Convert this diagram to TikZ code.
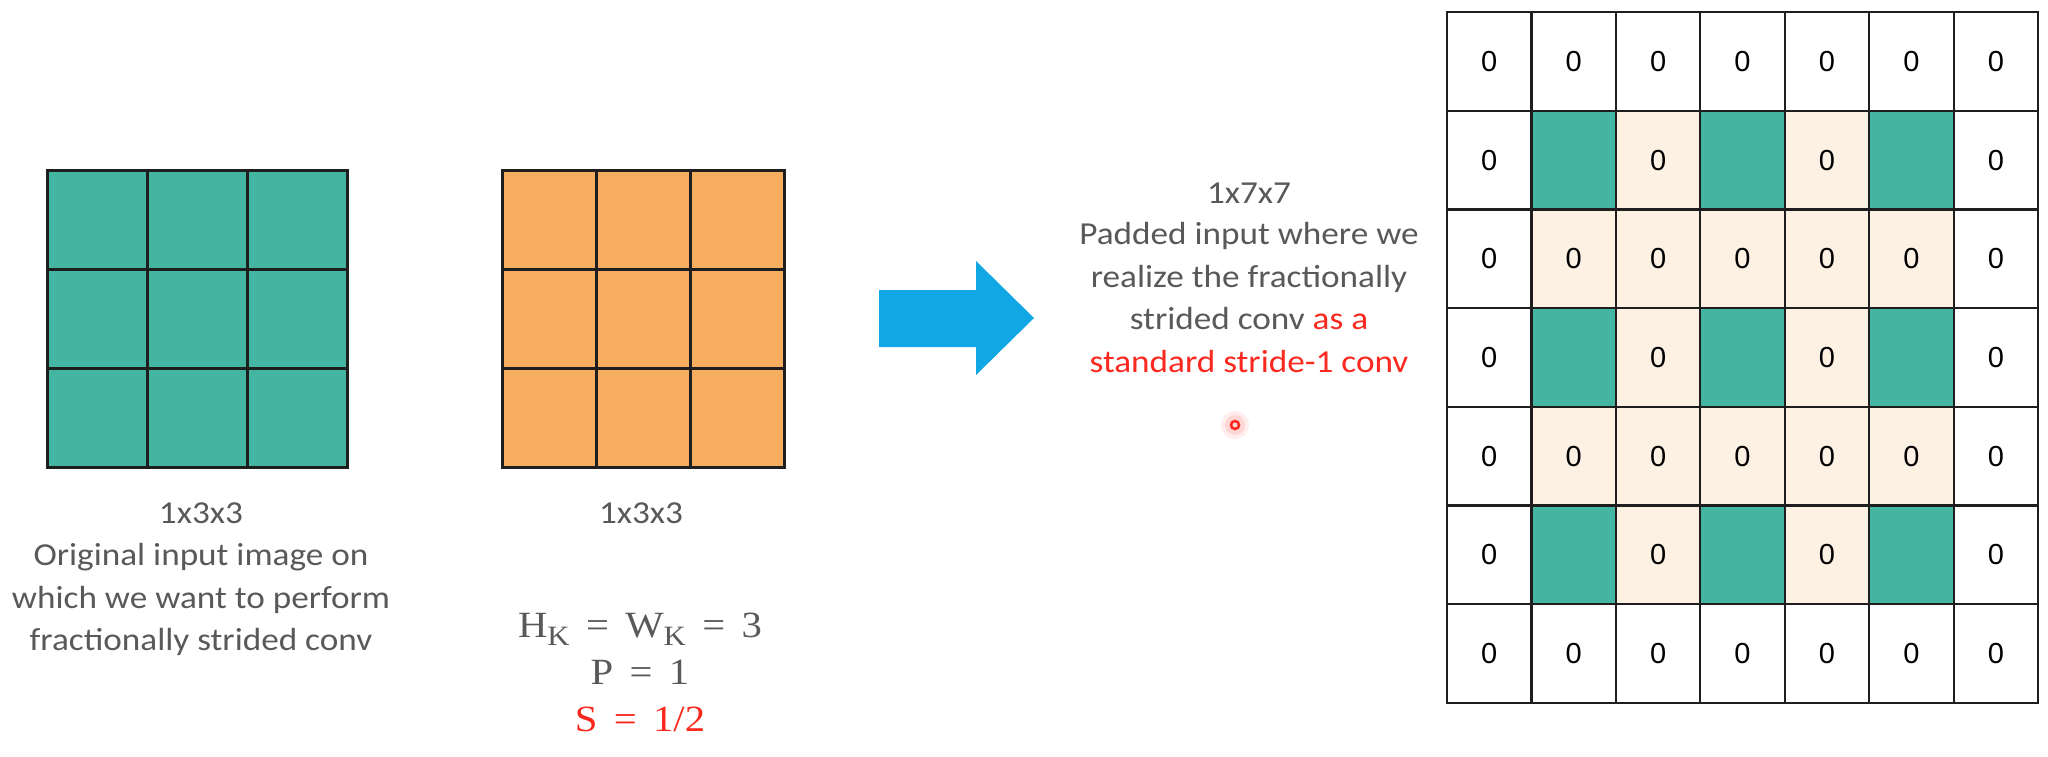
\documentclass[tikz,border=0pt]{standalone}
\usepackage[no-math]{fontspec}
\setmainfont{Carlito}[FakeStretch=1.1]
\newfontfamily\arialfont{Liberation Sans}
\newfontfamily\mathserif{Liberation Serif}[FakeStretch=1.1]
\newcommand{\ksub}{\raisebox{-0.22em}{\fontsize{28}{28}\selectfont K}}
\definecolor{cgreen}{RGB}{67,181,160}
\definecolor{corange}{RGB}{246,173,95}
\definecolor{cpeach}{RGB}{253,241,228}
\definecolor{carrow}{RGB}{17,166,228}
\definecolor{ctext}{RGB}{89,89,89}
\definecolor{cred}{RGB}{250,40,30}
\definecolor{cline}{RGB}{30,30,30}
\begin{document}
\begin{tikzpicture}[x=1pt,y=-1pt,
  gcell/.style={draw=cline, line width=3pt, fill=cgreen, inner sep=0pt, minimum width=100pt, minimum height=99pt},
  ocell/.style={draw=cline, line width=3pt, fill=corange, inner sep=0pt, minimum width=94pt, minimum height=99pt},
  pcell/.style={draw=cline, line width=2.2pt, inner sep=0pt, minimum width=84.43pt, minimum height=98.71pt, font=\arialfont\fontsize{29}{29}\selectfont, text=black},
  txt/.style={anchor=base, inner sep=0pt, text=ctext, font=\fontsize{32}{42}\selectfont},
  mth/.style={anchor=base, inner sep=0pt, text=ctext, font=\mathserif\fontsize{37}{40}\selectfont}]
\useasboundingbox (0,0) rectangle (2048,756);
% green 3x3 input
\foreach \r in {0,1,2}{\foreach \c in {0,1,2}{
  \node[gcell] (g-\r-\c) at ({47+100*(\c+0.5)},{170+99*(\r+0.5)}) {};
}}
% orange 3x3 kernel
\foreach \r in {0,1,2}{\foreach \c in {0,1,2}{
  \node[ocell] (o-\r-\c) at ({502+94*(\c+0.5)},{170+99*(\r+0.5)}) {};
}}
% 7x7 padded grid
\foreach \r in {0,...,6}{\foreach \c in {0,...,6}{
  \pgfmathtruncatemacro\isb{(\r==0)||(\r==6)||(\c==0)||(\c==6)}
  \pgfmathtruncatemacro\isg{(mod(\r,2)==1)&&(mod(\c,2)==1)}
  \ifnum\isb=1 \def\cfill{white}\def\clab{0}\else
    \ifnum\isg=1 \def\cfill{cgreen}\def\clab{}\else\def\cfill{cpeach}\def\clab{0}\fi\fi
  \node[pcell, fill=\cfill] (p-\r-\c) at ({1447+84.43*(\c+0.5)},{12+98.71*(\r+0.5)}) {\clab};
}}
% labels left
\node[txt] (gl1) at (201,523) {1x3x3};
\node[txt] (gl2) at (201,565) {Original input image on};
\node[txt] (gl3) at (201,608) {which we want to perform};
\node[txt] (gl4) at (201,650) {fractionally strided conv};
% labels kernel
\node[txt] (ol1) at (641,523) {1x3x3};
\node[mth] (m1) at (640,637) {H\ksub\ \,=\ \,W\ksub\ \,=\ \,3};
\node[mth] (m2) at (640,684) {P\ \,=\ \,1};
\node[mth, text=cred] (m3) at (640,731) {S\ \,=\ \,1/2};
% arrow
\fill[carrow] (879,290) -- (976,290) -- (976,261) -- (1034,318) -- (976,375) -- (976,347) -- (879,347) -- cycle;
% right text
\node[txt] (rl1) at (1249,203) {1x7x7};
\node[txt] (rl2) at (1249,244) {Padded input where we};
\node[txt] (rl3) at (1249,287) {realize the fractionally};
\node[txt] (rl4) at (1249,329) {strided conv \textcolor{cred}{as a}};
\node[txt, text=cred] (rl5) at (1249,372) {standard stride-1 conv};
% pointer dot
\fill[cred, opacity=0.08] (1235,425) circle (14);
\fill[cred, opacity=0.12] (1235,425) circle (10);
\draw[cred, line width=2.5pt] (1235,425) circle (4);
\end{tikzpicture}
\end{document}
